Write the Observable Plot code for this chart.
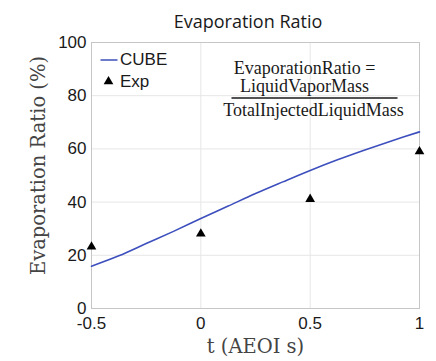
<!DOCTYPE html>
<html><head><meta charset="utf-8">
<script src="https://cdn.jsdelivr.net/npm/d3@7"></script>
<script src="https://cdn.jsdelivr.net/npm/@observablehq/plot@0.6"></script>
<style>
body{margin:0;background:#fff;width:436px;height:361px;overflow:hidden;}
#title{height:32px;box-sizing:border-box;padding-top:10px;padding-left:60px;text-align:center;font-family:"Open Sans",sans-serif;font-size:18px;line-height:22px;color:#1a1a1a;}
</style></head><body>
<div id="title">Evaporation Ratio</div>
<div id="chart"></div>
<script>
// CUBE simulation curve
const cubeT = [-0.5, -0.375, -0.25, -0.125, 0, 0.125, 0.25, 0.375, 0.5, 0.625, 0.75, 0.875, 1];
const cubeRatio = [15.9, 19.8, 24.4, 29.0, 33.8, 38.5, 43.2, 47.6, 51.9, 55.9, 59.6, 63.1, 66.4];
// Experimental points
const expT = [-0.5, 0, 0.5, 1];
const expRatio = [23.2, 28.1, 41.1, 59.0];
// Ticks
const xTicks = [-0.5, 0, 0.5, 1];
const yTicks = [0, 20, 40, 60, 80, 100];
const xLabel = "t (AEOI s)";
const yLabel = "Evaporation Ratio (%)";
const legendNames = ["CUBE", "Exp"];
const formulaLines = ["EvaporationRatio =", "LiquidVaporMass", "TotalInjectedLiquidMass"];

const cube = cubeT.map((t, i) => ({t, r: cubeRatio[i]}));
const exp = expT.map((t, i) => ({t, r: expRatio[i]}));

const BLUE = "#3d4fbd";
const hline = (half) => ({draw(ctx) { ctx.moveTo(-half, 0); ctx.lineTo(half, 0); }});
const LABEL_FONT = "'DejaVu Serif', serif";
const FORMULA_FONT = "'Liberation Serif', serif";

const chart = Plot.plot({
  width: 436, height: 329,
  marginLeft: 91, marginRight: 17, marginTop: 10, marginBottom: 53,
  style: {fontFamily: "'Liberation Sans', Arial, sans-serif", fontSize: "17px", color: "#1a1a1a", background: "#fff", overflow: "visible"},
  x: {domain: [-0.5, 1]},
  y: {domain: [0, 100]},
  marks: [
    Plot.gridX(xTicks, {stroke: "#e6e6e6", strokeOpacity: 1}),
    Plot.gridY(yTicks, {stroke: "#e6e6e6", strokeOpacity: 1}),
    Plot.frame({stroke: "#c6c6c6"}),
    Plot.axisX(xTicks, {tickSize: 0, tickPadding: 8, tickFormat: d => String(d), label: null, fontSize: 17}),
    Plot.axisY(yTicks, {tickSize: 0, tickPadding: 5, tickFormat: d => String(d), label: null, fontSize: 17}),
    Plot.line(cube, {x: "t", y: "r", stroke: BLUE, strokeWidth: 1.6, curve: "catmull-rom"}),
    Plot.dot(exp, {x: "t", y: "r", symbol: "triangle", fill: "#000", r: 3.6}),
    // axis labels
    Plot.text([yLabel], {text: d => d, frameAnchor: "left", rotate: -90, dx: -53, dy: -10, textAnchor: "middle", lineAnchor: "middle", fontFamily: LABEL_FONT, fontSize: 19.5, fill: "#444"}),
    Plot.text([xLabel], {text: d => d, frameAnchor: "bottom", dx: 0, dy: 38, textAnchor: "middle", lineAnchor: "middle", fontFamily: LABEL_FONT, fontSize: 19.5, fill: "#444"}),
    // legend
    Plot.dot([legendNames[0]], {frameAnchor: "top-left", dx: 17.5, dy: 17.5, symbol: hline(8.5), stroke: BLUE, strokeWidth: 1.5, fill: "none"}),
    Plot.text([legendNames[0]], {text: d => d, frameAnchor: "top-left", dx: 28.5, dy: 17.5, textAnchor: "start", lineAnchor: "middle", fontSize: 17}),
    Plot.dot([legendNames[1]], {frameAnchor: "top-left", dx: 17, dy: 39, symbol: "triangle", fill: "#000", r: 3.6}),
    Plot.text([legendNames[1]], {text: d => d, frameAnchor: "top-left", dx: 28.5, dy: 39, textAnchor: "start", lineAnchor: "middle", fontSize: 17}),
    // formula annotation
    Plot.text([formulaLines[0]], {text: d => d, frameAnchor: "top", dx: 49, dy: 25.5, textAnchor: "middle", lineAnchor: "middle", fontFamily: FORMULA_FONT, fontSize: 18}),
    Plot.text([formulaLines[1]], {text: d => d, frameAnchor: "top", dx: 49, dy: 43.5, textAnchor: "middle", lineAnchor: "middle", fontFamily: FORMULA_FONT, fontSize: 18}),
    Plot.dot([0], {frameAnchor: "top", dx: 59, dy: 55.5, symbol: hline(83), stroke: "#1a1a1a", strokeWidth: 1.6, fill: "none"}),
    Plot.text([formulaLines[2]], {text: d => d, frameAnchor: "top", dx: 58, dy: 67.5, textAnchor: "middle", lineAnchor: "middle", fontFamily: FORMULA_FONT, fontSize: 18})
  ]
});
document.getElementById("chart").appendChild(chart);
</script>
</body></html>
